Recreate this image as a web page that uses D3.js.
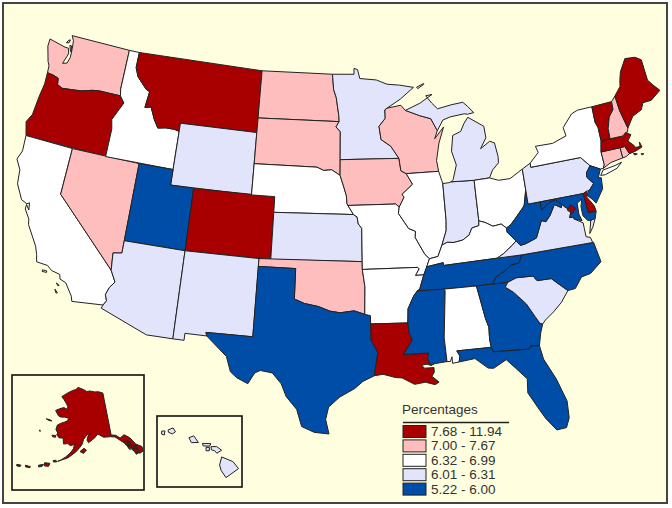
<!DOCTYPE html>
<html>
<head>
<meta charset="utf-8">
<script src="https://cdn.jsdelivr.net/npm/d3@7"></script>
<style>
  html, body { margin: 0; padding: 0; background: #fff; }
  svg { display: block; }
  text { font-family: "Liberation Sans", Arial, sans-serif; fill: #333; }
</style>
</head>
<body>
<div class="map"></div>
<script>
// legend classes
const legendTitle = 'Percentages';
const legendLabels = ['7.68 - 11.94', '7.00 - 7.67', '6.32 - 6.99', '6.01 - 6.31', '5.22 - 6.00'];
const legendColors = ['#A80000', '#FFBEBE', '#FFFFFF', '#E1E4FB', '#004DA8'];

// which class each state falls in (same order as the legend)
const classHigh = ['OR', 'MT', 'CO', 'LA', 'ME', 'VT', 'MA', 'DE', 'DC', 'AK'];
const classUpper = ['WA', 'ND', 'SD', 'NV', 'IA', 'WI', 'OK', 'NH', 'CT', 'RI'];
const classMiddle = ['CA', 'ID', 'NE', 'MO', 'IL', 'KY', 'OH', 'NY', 'AR', 'AL'];
const classLower = ['WY', 'KS', 'NM', 'AZ', 'HI', 'PA', 'VA', 'SC', 'MN', 'MI', 'IN'];
const classLow = ['UT', 'TX', 'MS', 'TN', 'GA', 'FL', 'NC', 'WV', 'NJ', 'MD'];

// state outlines, [lon, lat]
const WA = [[[-124,46.25],[-123.4,46.2],[-122.9,46.1],[-122.8,45.7],[-122.3,45.55],[-121.2,45.65],[-120.5,45.72],[-119.6,45.92],[-119,46],[-116.92,46],[-117.04,46.42],[-117.04,49],[-122.75,49],[-122.5,48.7],[-122.4,48.2],[-122.35,47.6],[-122.5,47.2],[-122.9,47.1],[-122.6,47.8],[-122.75,48.15],[-123.1,48.15],[-124.7,48.38],[-124.7,47.9],[-124.25,46.95],[-124.05,46.7]],
  [[-122.95,48.65],[-122.8,48.7],[-122.85,48.5],[-123.1,48.45]],[[-122.7,48.35],[-122.5,48.0],[-122.4,47.95],[-122.55,48.35]]];
const OR = [[[-124.2,42],[-117.03,42],[-117.03,43.8],[-117.22,44.4],[-116.85,45],[-116.47,45.6],[-116.92,46],[-119,46],[-119.6,45.92],[-120.5,45.72],[-121.2,45.65],[-122.3,45.55],[-122.8,45.7],[-122.9,46.1],[-123.4,46.2],[-124,46.25],[-123.95,45.5],[-124.1,44.6],[-124.2,43.4],[-124.55,42.85]]];
const CA = [[[-124.2,42],[-120,42],[-120,39],[-114.63,35],[-114.15,34.3],[-114.5,33.9],[-114.7,33.4],[-114.52,33.03],[-114.72,32.72],[-117.12,32.53],[-117.25,32.85],[-117.9,33.6],[-118.4,33.75],[-118.5,34.03],[-119.2,34.15],[-119.6,34.4],[-120.5,34.45],[-120.65,34.9],[-120.9,35.4],[-121.9,36.6],[-122,36.95],[-122.5,37.5],[-122.5,37.8],[-122.2,37.5],[-122.3,37.95],[-122.5,37.85],[-123,38],[-123.7,38.9],[-123.85,39.8],[-124.35,40.4],[-124.1,41]],
  [[-119.9,34.05],[-119.55,34.05],[-119.55,33.95],[-119.9,33.95]],[[-118.6,33.45],[-118.35,33.35],[-118.45,33.3]],[[-118.6,33.05],[-118.35,32.85],[-118.45,32.82]]];
const NV = [[[-120,42],[-114.05,42],[-114.05,36.2],[-114.75,36.1],[-114.63,35],[-120,39]]];
const ID = [[[-117.04,49],[-116.05,49],[-116.05,48],[-115.7,47.45],[-114.7,46.75],[-114.35,46.65],[-114.5,45.6],[-113.95,45.7],[-113.45,44.95],[-113,44.45],[-112.3,44.55],[-111.5,44.55],[-111.05,44.47],[-111.05,42],[-117.03,42],[-117.03,43.8],[-117.22,44.4],[-116.85,45],[-116.47,45.6],[-116.92,46],[-117.04,46.42]]];
const MT = [[[-116.05,49],[-104.05,49],[-104.05,45],[-111.05,45],[-111.05,44.47],[-111.5,44.55],[-112.3,44.55],[-113,44.45],[-113.45,44.95],[-113.95,45.7],[-114.5,45.6],[-114.35,46.65],[-114.7,46.75],[-115.7,47.45],[-116.05,48]]];
const WY = [[[-111.05,45],[-104.05,45],[-104.05,41],[-111.05,41]]];
const UT = [[[-114.05,42],[-111.05,42],[-111.05,41],[-109.05,41],[-109.05,37],[-114.05,37]]];
const CO = [[[-109.05,41],[-102.05,41],[-102.05,37],[-109.05,37]]];
const AZ = [[[-114.05,37],[-109.05,37],[-109.05,31.33],[-111.07,31.33],[-114.81,32.5],[-114.72,32.72],[-114.52,33.03],[-114.7,33.4],[-114.5,33.9],[-114.15,34.3],[-114.63,35],[-114.75,36.1],[-114.05,36.2]]];
const NM = [[[-109.05,37],[-103,37],[-103.04,32],[-106.62,32],[-106.53,31.78],[-108.2,31.78],[-108.2,31.33],[-109.05,31.33]]];
const ND = [[[-104.05,49],[-97.23,49],[-97.1,48],[-96.85,47.5],[-96.6,46.35],[-96.56,45.94],[-104.05,45.94]]];
const SD = [[[-104.05,45.94],[-96.56,45.94],[-96.85,45.6],[-96.45,45.3],[-96.45,43.5],[-96.45,42.5],[-97.2,42.85],[-97.9,42.8],[-98.5,43],[-104.05,43]]];
const NE = [[[-104.05,43],[-98.5,43],[-97.9,42.8],[-97.2,42.85],[-96.45,42.5],[-96.1,41.7],[-95.9,41.2],[-95.85,40.7],[-95.77,40.58],[-95.3,40],[-102.05,40],[-102.05,41],[-104.05,41]]];
const KS = [[[-102.05,40],[-95.3,40],[-95,39.85],[-94.9,39.4],[-94.62,39.12],[-94.62,37],[-102.05,37]]];
const OK = [[[-103,37],[-94.62,37],[-94.62,36.5],[-94.43,35.4],[-94.48,33.64],[-95.3,33.87],[-96.4,33.75],[-97.2,33.85],[-98.1,34.13],[-99.2,34.3],[-100,34.56],[-100,36.5],[-103.02,36.5]]];
const TX = [[[-106.62,32],[-103.04,32],[-103.02,36.5],[-100,36.5],[-100,34.56],[-99.2,34.3],[-98.1,34.13],[-97.2,33.85],[-96.4,33.75],[-95.3,33.87],[-94.48,33.64],[-94.04,33.55],[-94.04,33.02],[-94.04,31.99],[-93.55,31.2],[-93.7,30.4],[-93.85,29.7],[-94.7,29.35],[-95.3,28.9],[-96.4,28.35],[-97.2,27.7],[-97.4,26.9],[-97.15,25.96],[-98.2,26.05],[-99.1,26.4],[-99.5,27.5],[-100.3,28.3],[-100.7,29.1],[-101.4,29.77],[-102.3,29.88],[-102.7,29.7],[-103.15,28.98],[-104,29.3],[-104.5,29.65],[-104.9,30.6],[-106,31.4],[-106.53,31.78]]];
const MN = [[[-97.23,49],[-95.15,49],[-95.15,49.38],[-94.8,49.3],[-94.6,48.72],[-93,48.6],[-92,48.3],[-90.8,48.2],[-89.5,48],[-90.8,47.3],[-92.1,46.75],[-92.3,46.65],[-92.3,46.1],[-92.9,45.6],[-92.75,44.75],[-91.9,44.3],[-91.22,43.5],[-96.45,43.5],[-96.45,45.3],[-96.85,45.6],[-96.56,45.94],[-96.6,46.35],[-96.85,47.5],[-97.1,48]]];
const IA = [[[-96.45,43.5],[-91.22,43.5],[-91.1,42.7],[-90.65,42.5],[-90.15,41.8],[-91.1,41.2],[-90.95,41],[-91.4,40.4],[-91.7,40.6],[-95.77,40.58],[-95.85,40.7],[-95.9,41.2],[-96.1,41.7],[-96.45,42.5]]];
const MO = [[[-95.77,40.58],[-91.7,40.6],[-91.4,40.4],[-91.5,40],[-90.7,39],[-90.15,38.8],[-90.2,38.4],[-89.5,37.3],[-89.15,37],[-89.42,36.5],[-89.7,36],[-90.37,36],[-90.05,36.4],[-90.15,36.5],[-94.62,36.5],[-94.62,37],[-94.62,39.12],[-94.9,39.4],[-95,39.85],[-95.3,40]]];
const AR = [[[-94.62,36.5],[-90.15,36.5],[-90.05,36.4],[-90.37,36],[-89.7,36],[-90.1,35.1],[-90.3,35],[-90.6,34.7],[-91.1,33.9],[-91.17,33],[-94.04,33.02],[-94.04,33.55],[-94.48,33.64],[-94.43,35.4]]];
const LA = [[[-94.04,33.02],[-91.17,33],[-91.1,32.3],[-90.9,31.9],[-91.6,31],[-89.73,31],[-89.85,30.65],[-89.6,30.2],[-89.9,30.3],[-90.3,30.25],[-90.1,30.05],[-89.4,30.05],[-89.4,29.75],[-89.6,29.5],[-89.1,29.1],[-89.4,28.95],[-90.1,29.15],[-90.9,29.05],[-91.8,29.5],[-92.3,29.55],[-93.2,29.78],[-93.85,29.7],[-93.7,30.4],[-93.55,31.2],[-94.04,31.99]]];
const WI = [[[-90.65,42.5],[-87.8,42.5],[-87.9,43.2],[-87.55,44.3],[-87,45.3],[-87.9,44.6],[-87.6,45.1],[-88.1,45.9],[-89.1,46.15],[-90.4,46.55],[-90.8,46.9],[-92.1,46.75],[-92.3,46.65],[-92.3,46.1],[-92.9,45.6],[-92.75,44.75],[-91.9,44.3],[-91.22,43.5],[-91.1,42.7]]];
const IL = [[[-87.53,41.7],[-87.53,39.35],[-87.6,38.7],[-88.05,37.8],[-88.45,37.1],[-89.15,37],[-89.5,37.3],[-90.2,38.4],[-90.15,38.8],[-90.7,39],[-91.5,40],[-91.4,40.4],[-90.95,41],[-91.1,41.2],[-90.15,41.8],[-90.65,42.5],[-87.8,42.5],[-87.6,41.9]]];
const IN = [[[-87.53,41.7],[-87,41.72],[-86.8,41.76],[-84.8,41.7],[-84.81,39.1],[-84.85,38.8],[-85.45,38.7],[-85.75,38.27],[-86.3,38],[-87.05,37.9],[-87.6,37.95],[-88.05,37.8],[-87.6,38.7],[-87.53,39.35]]];
const MI = [[[-90.4,46.55],[-89.1,46.15],[-88.1,45.9],[-87.6,45.1],[-87,45.75],[-86.3,45.9],[-85,46],[-84.7,45.95],[-84.1,46],[-84.6,46.45],[-85,46.75],[-86.1,46.67],[-87.4,46.5],[-87.9,46.9],[-88.4,47.4],[-87.8,47.45],[-89,46.95]],
  [[-86.8,41.76],[-84.8,41.7],[-83.45,41.73],[-83.1,42.2],[-82.5,42.6],[-82.45,43],[-82.6,43.9],[-83,44.05],[-83.9,43.65],[-83.3,44.3],[-83.35,45.05],[-84.7,45.75],[-85.1,45.4],[-85.5,44.9],[-86.25,44.7],[-86.5,43.7],[-86.2,42.8],[-86.6,41.9]],
  [[-89.2,48],[-88.5,48.2],[-88.5,48.15],[-89.1,47.9]]];
const OH = [[[-84.81,39.1],[-84.8,41.7],[-83.45,41.73],[-82.7,41.5],[-81.7,41.5],[-80.52,41.98],[-80.52,40.64],[-80.85,39.7],[-81,39.55],[-81.75,38.95],[-82.2,38.6],[-82.6,38.42],[-83,38.72],[-83.7,38.65],[-84.3,38.95]]];
const KY = [[[-89.42,36.5],[-88.07,36.68],[-88.05,36.5],[-83.68,36.6],[-83.1,36.85],[-82.3,37.3],[-81.97,37.53],[-82.6,38.15],[-82.6,38.42],[-83,38.72],[-83.7,38.65],[-84.3,38.95],[-84.81,39.1],[-84.85,38.8],[-85.45,38.7],[-85.75,38.27],[-86.3,38],[-87.05,37.9],[-87.6,37.95],[-88.05,37.8],[-88.45,37.1],[-89.15,37]]];
const TN = [[[-90.3,35],[-88.2,35],[-85.6,35],[-84.32,35],[-84,35.4],[-83.3,35.7],[-82.6,36.05],[-82,36.1],[-81.68,36.59],[-83.68,36.6],[-88.05,36.5],[-88.07,36.68],[-89.42,36.5],[-89.7,36],[-90.1,35.1]]];
const MS = [[[-90.3,35],[-88.2,35],[-88.1,34.9],[-88.47,31.9],[-88.4,30.37],[-89.3,30.3],[-89.6,30.2],[-89.85,30.65],[-89.73,31],[-91.6,31],[-90.9,31.9],[-91.1,32.3],[-91.17,33],[-91.1,33.9],[-90.6,34.7]]];
const AL = [[[-88.2,35],[-85.6,35],[-85.18,32.87],[-85,32.3],[-85.05,31.55],[-85,31],[-87.6,31],[-87.4,30.65],[-87.5,30.28],[-88,30.23],[-88,30.65],[-88.15,30.35],[-88.4,30.37],[-88.47,31.9],[-88.1,34.9]]];
const GA = [[[-85.6,35],[-83.1,35],[-83.35,34.7],[-82.75,34.3],[-81.9,33.45],[-81.4,32.6],[-81.1,32.1],[-80.9,32.03],[-81.15,31.5],[-81.4,30.7],[-82,30.75],[-82.2,30.57],[-84.86,30.7],[-85,31],[-85.05,31.55],[-85,32.3],[-85.18,32.87]]];
const FL = [[[-87.6,31],[-85,31],[-84.86,30.7],[-82.2,30.57],[-82,30.75],[-81.4,30.7],[-81.25,29.8],[-80.55,28.4],[-80.05,26.9],[-80.1,25.8],[-80.4,25.2],[-81.1,25.15],[-81.75,26],[-82.2,26.8],[-82.75,27.8],[-82.65,28.7],[-83.4,29.5],[-84,30.1],[-85,29.65],[-85.4,29.7],[-86.3,30.4],[-87.5,30.28],[-87.4,30.65]]];
const SC = [[[-83.35,34.7],[-83.1,35],[-82.4,35.2],[-81.05,35.15],[-80.8,34.82],[-79.67,34.8],[-78.55,33.86],[-79.2,33.2],[-79.9,32.7],[-80.65,32.25],[-80.9,32.03],[-81.1,32.1],[-81.4,32.6],[-81.9,33.45],[-82.75,34.3]]];
const NC = [[[-84.32,35],[-83.1,35],[-82.4,35.2],[-81.05,35.15],[-80.8,34.82],[-79.67,34.8],[-78.55,33.86],[-77.95,33.9],[-77.3,34.55],[-76.55,34.65],[-75.55,35.25],[-75.8,36.55],[-81.68,36.59],[-82,36.1],[-82.6,36.05],[-83.3,35.7],[-84,35.4]]];
const VA = [[[-83.68,36.6],[-81.68,36.59],[-75.87,36.55],[-75.97,36.9],[-76.3,37],[-76.3,37.55],[-76.3,37.9],[-76.95,38.25],[-77.05,38.4],[-77.3,38.4],[-77.05,38.85],[-77.5,39.1],[-77.72,39.32],[-77.83,39.13],[-78.35,39.4],[-78.87,38.77],[-79.3,38.42],[-79.65,38.55],[-80.3,37.5],[-81.25,37.25],[-81.68,37.2],[-81.97,37.53],[-82.3,37.3],[-83.1,36.85]],
  [[-75.95,37.15],[-75.65,37.95],[-75.25,38.03],[-75.6,37.5]]];
const WV = [[[-82.6,38.42],[-82.2,38.6],[-81.75,38.95],[-81,39.55],[-80.85,39.7],[-80.52,40.64],[-80.52,39.72],[-79.48,39.72],[-79.48,39.2],[-78.75,39.6],[-78.2,39.68],[-77.72,39.32],[-77.83,39.13],[-78.35,39.4],[-78.87,38.77],[-79.3,38.42],[-79.65,38.55],[-80.3,37.5],[-81.25,37.25],[-81.68,37.2],[-81.97,37.53],[-82.6,38.15]]];
const MD = [[[-79.48,39.72],[-75.79,39.72],[-75.7,38.46],[-75.05,38.45],[-75.25,38.03],[-75.65,37.95],[-75.9,38],[-76.2,38.35],[-76.2,38.95],[-76,39.4],[-76.45,39.2],[-76.5,38.5],[-76.35,38.05],[-76.95,38.25],[-77.05,38.4],[-77.3,38.4],[-77.05,38.85],[-77.5,39.1],[-77.72,39.32],[-78.2,39.68],[-78.75,39.6],[-79.48,39.2]]];
const DE = [[[-75.79,39.72],[-75.45,39.82],[-75.55,39.45],[-75.1,38.8],[-75.05,38.45],[-75.7,38.46]]];
const DC = [[[-77.03,39.18],[-76.68,38.9],[-77.03,38.62],[-77.38,38.9]]];
const PA = [[[-80.52,41.98],[-79.76,42.27],[-79.76,42],[-75.35,42],[-74.7,41.36],[-75.13,40.98],[-75.2,40.7],[-74.75,40.2],[-75.2,39.85],[-75.45,39.82],[-75.79,39.72],[-80.52,39.72],[-80.52,40.64]]];
const NJ = [[[-74.7,41.36],[-73.9,41],[-74.25,40.5],[-74,40.45],[-74.1,39.75],[-74.9,38.95],[-75.15,39.25],[-75.55,39.6],[-75.2,39.85],[-74.75,40.2],[-75.2,40.7],[-75.13,40.98]]];
const NY = [[[-79.76,42],[-79.76,42.27],[-78.9,42.85],[-79.05,43.27],[-77.5,43.25],[-76.2,43.55],[-76.3,44.1],[-75.3,44.85],[-74.7,45],[-73.35,45],[-73.4,44],[-73.25,43.6],[-73.27,42.75],[-73.5,42.05],[-73.49,41.2],[-73.65,41],[-73.9,41],[-74.7,41.36],[-75.35,42]],
  [[-74,40.6],[-73.7,40.9],[-72.6,41],[-72,41.1],[-72.5,40.8],[-73.6,40.58]]];
const CT = [[[-73.5,42.05],[-71.8,42.02],[-71.8,41.35],[-72.9,41.25],[-73.65,41],[-73.49,41.2]]];
const RI = [[[-71.8,42.02],[-71.38,42.02],[-71.15,41.5],[-71.5,41.37],[-71.8,41.35]]];
const MA = [[[-73.5,42.05],[-73.27,42.75],[-72.46,42.73],[-71.3,42.7],[-71,42.87],[-70.6,42.65],[-71,42.3],[-70.6,41.95],[-70.5,41.78],[-70.1,41.77],[-70.05,42.05],[-69.95,41.7],[-70.6,41.55],[-71.15,41.5],[-71.38,42.02],[-71.8,42.02]],
  [[-70.8,41.45],[-70.5,41.35],[-70.75,41.33]],[[-70.2,41.3],[-69.95,41.25],[-70.1,41.22]]];
const VT = [[[-73.35,45],[-71.5,45.01],[-71.55,44.5],[-72.05,44.1],[-72.4,43.4],[-72.46,42.73],[-73.27,42.75],[-73.25,43.6],[-73.4,44]]];
const NH = [[[-71.5,45.01],[-71.08,45.3],[-71,44.3],[-70.7,43.1],[-70.82,42.87],[-71,42.87],[-71.3,42.7],[-72.46,42.73],[-72.4,43.4],[-72.05,44.1],[-71.55,44.5]]];
const ME = [[[-71.08,45.3],[-70.4,45.8],[-70.25,46.2],[-70,46.7],[-69.25,47.45],[-68.3,47.35],[-67.8,47.07],[-67.8,45.7],[-67.45,45.3],[-67,44.85],[-68,44.4],[-68.8,44.4],[-69.1,44],[-70,43.75],[-70.7,43.1],[-71,44.3]]];

// insets
const AK = [[[-141,69.65],[-143.5,70.1],[-146,70.2],[-149,70.5],[-151,70.45],[-153,70.9],[-156.6,71.35],[-158,70.85],[-160,70.6],[-163,69.9],[-166.2,68.9],[-164.5,68.3],[-163,67.6],[-162,67],[-161.8,66.3],[-164,66.6],[-166.1,66.2],[-168.1,65.65],[-166,64.6],[-165,64.45],[-162.9,64.55],[-161,64.5],[-161,63.9],[-162.5,63.5],[-164.5,63.05],[-165.8,62.6],[-166.1,61.6],[-165,60.9],[-165.3,60.5],[-164,59.9],[-162.3,60],[-162,59.1],[-161.8,58.7],[-160,58.9],[-158.9,58.5],[-157.2,58.8],[-157.5,57.9],[-158.7,56.9],[-160.5,55.9],[-162.5,55],[-163.3,54.8],[-161.5,55.3],[-159.5,55.8],[-158,56.5],[-156.5,57.2],[-154.9,58.2],[-153.8,59],[-153.4,59.9],[-152.3,60.6],[-151.8,60.9],[-150.1,61.2],[-151.3,60.7],[-151.8,59.8],[-151.2,59.2],[-149.5,59.8],[-148.3,60.2],[-147,60.9],[-146,60.65],[-144.5,60.1],[-141.5,59.95],[-139.5,59.7],[-137.5,58.6],[-136,57.8],[-134.5,56.5],[-133,55.2],[-131.5,54.8],[-130.2,55],[-130,56],[-132,57],[-133.5,58.7],[-135.5,59.7],[-137.5,59.2],[-139,60],[-141,60.3]],
  [[-154.8,57.3],[-153.2,58],[-152.2,57.6],[-153.4,56.9]],
  [[-171.7,63.4],[-169.5,63.4],[-168.8,63.2],[-170.3,63.2]],
  [[-167.4,60.2],[-165.7,60.3],[-165.7,59.9],[-166.9,59.9]],
  [[-173.2,60.7],[-172.8,60.4],[-173.05,60.4]],
  [[-136.3,58.2],[-135,58.4],[-134.8,57.4],[-135.8,57.3]],[[-135.5,57.1],[-134.7,57.3],[-134.7,56.2],[-135,56.3]],[[-134.7,58],[-133.9,57.9],[-134,57],[-134.5,57.1]],[[-134,56.9],[-132.8,56.8],[-132.7,56],[-133.7,56.1]],[[-133.6,55.9],[-132,56],[-131.6,55.1],[-133,54.8]],[[-132.6,56.8],[-131.9,56.7],[-131.9,55.8],[-132.4,56]],
  [[-165,54.8],[-164,55],[-163.6,54.65],[-164.8,54.5]],[[-168,54],[-166,54.1],[-166.3,53.4],[-167.9,53.3]],[[-170,53.15],[-168.3,53.6],[-168.6,53.1],[-169.8,52.8]],
  [[-174.5,52.4],[-172.6,52.4],[-172.8,52.15],[-174.3,52.05]],[[-177.5,51.95],[-176,52.1],[-176.2,51.7],[-177.4,51.65]]];
const HI = [[[-155.95,20.3],[-155.15,19.98],[-154.75,19.5],[-155.65,18.9],[-156,19.4],[-156.1,19.75]],
  [[-156.72,21],[-156.3,21],[-155.95,20.75],[-156.3,20.55],[-156.45,20.72],[-156.68,20.78]],
  [[-157.33,21.22],[-156.72,21.2],[-156.82,21.03],[-157.28,21.05]],
  [[-157.07,20.95],[-156.83,20.95],[-156.83,20.72],[-157.07,20.72]],
  [[-158.3,21.6],[-157.95,21.73],[-157.62,21.28],[-158.12,21.27]],
  [[-159.8,22.12],[-159.45,22.26],[-159.27,22],[-159.5,21.85],[-159.78,21.96]],
  [[-160.27,22.03],[-160.03,22.05],[-160.08,21.77],[-160.27,21.83]]];
const stateIds = ['WA','OR','CA','NV','ID','MT','WY','UT','CO','AZ','NM','ND','SD','NE','KS','OK','TX','MN','IA','MO','AR','LA','WI','IL','IN','MI','OH','KY','TN','MS','AL','GA','FL','SC','NC','VA','WV','PA','NY','NJ','MD','DE','CT','RI','MA','VT','NH','ME','DC'];
const stateRings = {WA,OR,CA,NV,ID,MT,WY,UT,CO,AZ,NM,ND,SD,NE,KS,OK,TX,MN,IA,MO,AR,LA,WI,IL,IN,MI,OH,KY,TN,MS,AL,GA,FL,SC,NC,VA,WV,PA,NY,NJ,MD,DE,CT,RI,MA,VT,NH,ME,DC,AK,HI};

const OuterWidth = 672, OuterHeight = 508;
const paper = '#FFFFDF', ink = '#222';

// class lookup
const classOf = new Map();
[classHigh, classUpper, classMiddle, classLower, classLow].forEach((list, i) => list.forEach(s => classOf.set(s, legendLabels[i])));
const color = d3.scaleOrdinal(legendLabels, legendColors);

// d3-geo wants clockwise rings, flip the ones that came out the wrong way round
function toFeature(id) {
  const rings = stateRings[id].map(r => {
    const ring = r.concat([r[0]]);
    return d3.geoArea({type: 'Polygon', coordinates: [ring]}) > 2 * Math.PI ? ring.reverse() : ring;
  });
  return {type: 'Feature', id, geometry: {type: 'MultiPolygon', coordinates: rings.map(r => [r])}};
}

const svg = d3.select('.map').append('svg')
  .attr('width', OuterWidth)
  .attr('height', OuterHeight);

svg.append('rect').attr('width', OuterWidth).attr('height', OuterHeight).attr('fill', '#fff');
svg.append('rect')
  .attr('x', 3).attr('y', 3)
  .attr('width', 664).attr('height', 500)
  .attr('fill', paper).attr('stroke', '#444').attr('stroke-width', 2);

// projections
const mainland = d3.geoAlbers().scale(892).translate([338, 235]);
const alaska = d3.geoConicEqualArea().parallels([55, 65]).rotate([154, 0]).center([0, 62]).scale(262).translate([82, 430]);
const hawaii = d3.geoConicEqualArea().parallels([8, 18]).rotate([157, 0]).center([0, 20.5]).scale(850).translate([207, 454]);

function drawStates(ids, projection) {
  svg.append('g').selectAll('path')
    .data(ids.map(toFeature))
    .join('path')
    .attr('d', d3.geoPath(projection))
    .attr('fill', d => color(classOf.get(d.id)))
    .attr('stroke', ink)
    .attr('stroke-width', 1)
    .attr('stroke-linejoin', 'round');
}

// inset frames
const insetFrames = [[12, 375, 132, 115], [157, 416, 85, 71]];
svg.append('g').selectAll('rect')
  .data(insetFrames)
  .join('rect')
  .attr('x', d => d[0]).attr('y', d => d[1])
  .attr('width', d => d[2]).attr('height', d => d[3])
  .attr('fill', 'none').attr('stroke', '#111').attr('stroke-width', 1.6);

drawStates(stateIds, mainland);
drawStates(['AK'], alaska);
drawStates(['HI'], hawaii);

// legend
const legend = svg.append('g');
legend.append('text').attr('x', 402).attr('y', 414).attr('font-size', 13.5).text(legendTitle);
legend.append('line').attr('x1', 403).attr('x2', 509).attr('y1', 422.5).attr('y2', 422.5).attr('stroke', '#222').attr('stroke-width', 1.3);
const rows = d3.scaleBand().domain(legendLabels).range([425, 497]);
legend.selectAll('rect').data(legendLabels).join('rect')
  .attr('x', 403).attr('y', d => rows(d) + 0.5)
  .attr('width', 23).attr('height', 12)
  .attr('fill', d => color(d)).attr('stroke', '#222').attr('stroke-width', 1);
legend.selectAll('text.row').data(legendLabels).join('text')
  .attr('class', 'row')
  .attr('x', 431).attr('y', d => rows(d) + 11)
  .attr('font-size', 13.5)
  .text(d => d);
</script>
</body>
</html>
